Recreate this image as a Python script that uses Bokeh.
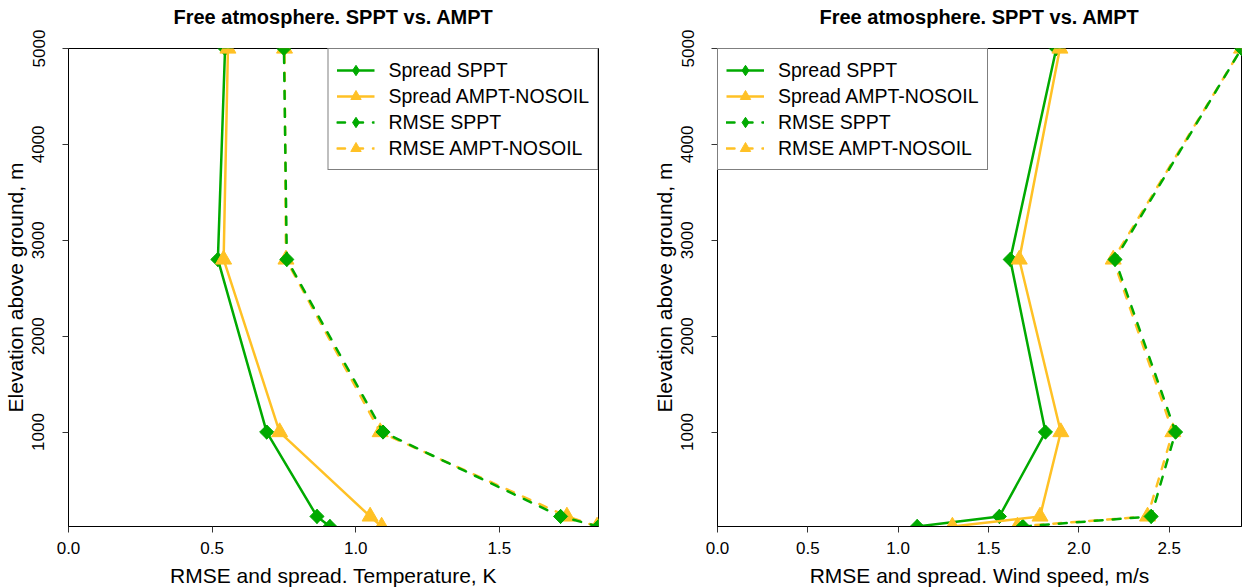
import math
from bokeh.plotting import figure
from bokeh.layouts import row
from bokeh.models import (Range1d, FixedTicker, NumeralTickFormatter, Legend,
                          LegendItem, Title)
from bokeh.embed import file_html
from bokeh.resources import INLINE

# ---------------- data ----------------
levels = [15, 120, 1000, 2800, 5000]
y_ticks = [1000, 2000, 3000, 4000, 5000]

temp_x_ticks = [0.0, 0.5, 1.0, 1.5]
temp_spread_sppt = [0.91, 0.865, 0.69, 0.52, 0.545]
temp_spread_ampt = [1.09, 1.05, 0.735, 0.54, 0.555]
temp_rmse_sppt = [1.845, 1.713, 1.095, 0.76, 0.75]
temp_rmse_ampt = [1.84, 1.735, 1.085, 0.757, 0.752]

wind_x_ticks = [0.0, 0.5, 1.0, 1.5, 2.0, 2.5]
wind_spread_sppt = [1.105, 1.56, 1.815, 1.62, 1.875]
wind_spread_ampt = [1.30, 1.785, 1.90, 1.67, 1.895]
wind_rmse_sppt = [1.69, 2.40, 2.535, 2.20, 2.90]
wind_rmse_ampt = [1.66, 2.38, 2.52, 2.19, 2.90]

series_labels = ["Spread SPPT", "Spread AMPT-NOSOIL", "RMSE SPPT", "RMSE AMPT-NOSOIL"]
title_text = "Free atmosphere. SPPT vs. AMPT"
y_label = "Elevation above ground, m"
temp_x_label = "RMSE and spread. Temperature, K"
wind_x_label = "RMSE and spread. Wind speed, m/s"

GREEN = "#00AA00"
ORANGE = "#FFC125"
FONT = "Liberation Sans"
FRAME_H = 478


def make_panel(xticks, xlabel, spread_sppt, spread_ampt, rmse_sppt, rmse_ampt,
               legend_loc, min_left, min_right, frame_w):
    xmax = max(spread_sppt + spread_ampt + rmse_sppt + rmse_ampt)
    p = figure(frame_width=frame_w, frame_height=FRAME_H,
               x_range=Range1d(0, xmax), y_range=Range1d(levels[0], levels[-1]),
               output_backend="svg", toolbar_location=None,
               min_border_left=min_left, min_border_right=min_right,
               min_border_top=48, min_border_bottom=61,
               title=None)
    p.xgrid.visible = False
    p.ygrid.visible = False
    p.outline_line_color = "black"
    p.outline_line_width = 1
    p.background_fill_color = "white"
    p.border_fill_color = "white"

    # spacer (nearest the frame) then the real title above it
    spacer = Title(text=" ", text_font_size="10px", standoff=6)
    p.add_layout(spacer, "above")
    title = Title(text=title_text, text_font=FONT, text_font_size="20px",
                  text_font_style="bold", text_color="black", align="center",
                  vertical_align="top", standoff=0)
    p.add_layout(title, "above")

    for ax in (p.xaxis[0], p.yaxis[0]):
        ax.axis_line_color = "black"
        ax.major_tick_line_color = "#333333"
        ax.major_tick_out = 6
        ax.major_tick_in = 0
        ax.minor_tick_line_color = None
        ax.major_label_text_font = FONT
        ax.major_label_text_font_size = "17px"
        ax.major_label_text_color = "black"
        ax.axis_label_text_font = FONT
        ax.axis_label_text_font_size = "21px"
        ax.axis_label_text_font_style = "normal"
        ax.axis_label_text_color = "black"

    p.xaxis.ticker = FixedTicker(ticks=xticks)
    p.xaxis.formatter = NumeralTickFormatter(format="0.0")
    p.xaxis.axis_label = xlabel
    p.xaxis.major_label_standoff = 9
    p.xaxis.axis_label_standoff = 7

    p.yaxis.ticker = FixedTicker(ticks=y_ticks)
    p.yaxis.major_label_orientation = "vertical"
    p.yaxis.axis_label = y_label
    p.yaxis.major_label_standoff = 18
    p.yaxis.axis_label_standoff = 3

    dash = "8 10"
    # RMSE (dashed)
    l_ra = p.line(rmse_ampt, levels, line_color=ORANGE, line_width=2.5,
                  line_dash=dash, line_cap="round", line_join="round")
    m_ra = p.scatter(rmse_ampt, levels, marker="triangle", size=16,
                     fill_color=ORANGE, line_color=ORANGE)
    l_rs = p.line(rmse_sppt, levels, line_color=GREEN, line_width=2.5,
                  line_dash=dash, line_cap="round", line_join="round")
    m_rs_leg = p.scatter(rmse_sppt, levels, marker="diamond", size=14,
                         fill_color=GREEN, line_color=GREEN)
    p.scatter(rmse_sppt, levels, marker="square", angle=math.pi / 4, size=10,
              fill_color=GREEN, line_color=GREEN)
    # Spread (solid)
    l_ss = p.line(spread_sppt, levels, line_color=GREEN, line_width=2.5, line_join="round")
    m_ss_leg = p.scatter(spread_sppt, levels, marker="diamond", size=14,
                         fill_color=GREEN, line_color=GREEN)
    p.scatter(spread_sppt, levels, marker="square", angle=math.pi / 4, size=10,
              fill_color=GREEN, line_color=GREEN)
    l_sa = p.line(spread_ampt, levels, line_color=ORANGE, line_width=2.5, line_join="round")
    m_sa = p.scatter(spread_ampt, levels, marker="triangle", size=16,
                     fill_color=ORANGE, line_color=ORANGE)

    items = [
        LegendItem(label=series_labels[0], renderers=[l_ss, m_ss_leg]),
        LegendItem(label=series_labels[1], renderers=[l_sa, m_sa]),
        LegendItem(label=series_labels[2], renderers=[l_rs, m_rs_leg]),
        LegendItem(label=series_labels[3], renderers=[l_ra, m_ra]),
    ]
    legend = Legend(items=items, location=legend_loc, margin=0, padding=8,
                    spacing=0, glyph_width=38, glyph_height=26, label_height=26,
                    label_standoff=14,
                    label_text_font=FONT, label_text_font_size="19.5px",
                    label_text_color="black",
                    border_line_color="black", border_line_width=1,
                    background_fill_color="white", background_fill_alpha=1.0)
    p.add_layout(legend, "center")
    return p


p1 = make_panel(temp_x_ticks, temp_x_label, temp_spread_sppt, temp_spread_ampt,
                temp_rmse_sppt, temp_rmse_ampt, "top_right", 67, 23, 530)
p2 = make_panel(wind_x_ticks, wind_x_label, wind_spread_sppt, wind_spread_ampt,
                wind_rmse_sppt, wind_rmse_ampt, "top_left", 96, 3, 524)

layout = row(p1, p2)
open("out.html", "w").write(file_html(layout, INLINE))
